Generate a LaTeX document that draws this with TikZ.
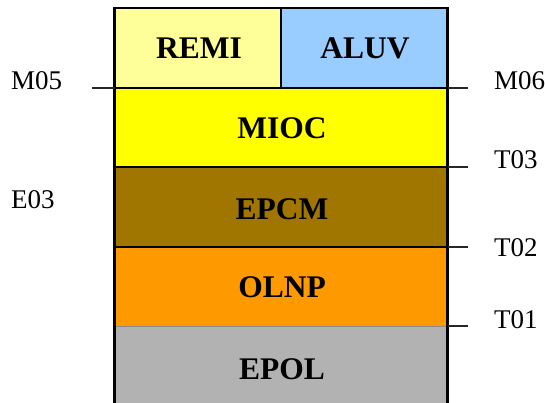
\documentclass[tikz,border=0pt]{standalone}
\usepackage{fontspec}
\setmainfont{Liberation Serif}
\definecolor{remic}{RGB}{255,255,153}
\definecolor{aluvc}{RGB}{153,204,255}
\definecolor{mioc}{RGB}{255,255,0}
\definecolor{epcmc}{RGB}{160,118,0}
\definecolor{olnpc}{RGB}{255,153,0}
\definecolor{epolc}{RGB}{178,178,178}
\tikzset{
  layer/.style={rectangle, inner sep=0pt, outer sep=0pt, minimum width=333pt},
  halflayer/.style={layer, minimum width=166.5pt},
  lname/.style={inner sep=0pt, font=\fontsize{31.5}{31.5}\selectfont\bfseries},
  lbl/.style={inner sep=0pt, anchor=west, font=\fontsize{27}{27}\selectfont},
  border/.style={line width=2.8pt, line cap=rect},
  tick/.style={line width=1.6pt, black!85},
  thinsep/.style={line width=0.8pt, black!45},
}
\begin{document}
\begin{tikzpicture}[x=1pt,y=-1pt]
\useasboundingbox (0,0) rectangle (545,403);
% layers
\node[halflayer, fill=remic, minimum height=80pt] (remi) at (197.75,48) {};
\node[halflayer, fill=aluvc, minimum height=80pt] (aluv) at (364.25,48) {};
\node[layer, fill=mioc, minimum height=79pt] (mioc) at (281,127.5) {};
\node[layer, fill=epcmc, minimum height=80pt] (epcm) at (281,207) {};
\node[layer, fill=olnpc, minimum height=79pt] (olnp) at (281,286.5) {};
\node[layer, fill=epolc, minimum height=77pt] (epol) at (281,364.5) {};
% layer names
\node[lname] (tremi) at (199,48.5) {REMI};
\node[lname] (taluv) at (365,48.5) {ALUV};
\node[lname] (tmioc) at (282,128.5) {MIOC};
\node[lname] (tepcm) at (282,209) {EPCM};
\node[lname] (tolnp) at (282,287.5) {OLNP};
\node[lname] (tepol) at (282,369) {EPOL};
% borders
\draw[thinsep] (olnp.south west) -- (olnp.south east);
\draw[border] (epol.south west) -- (remi.north west) -- (aluv.north east) -- (epol.south east);
\draw[border] (remi.north east) -- (remi.south east);
\draw[border] (mioc.north west) -- (mioc.north east);
\draw[border] (epcm.north west) -- (epcm.north east);
\draw[border] (olnp.north west) -- (olnp.north east);
% tick marks
\coordinate (m05t) at (92,88);
\coordinate (m06t) at (467.5,88);
\coordinate (t03t) at (467.5,167);
\coordinate (t02t) at (467.5,247);
\coordinate (t01t) at (467.5,326);
\draw[tick] (m05t) -- (mioc.north west);
\draw[tick] (mioc.north east) -- (m06t);
\draw[tick] (epcm.north east) -- (t03t);
\draw[tick] (olnp.north east) -- (t02t);
\draw[tick] (epol.north east) -- (t01t);
% labels
\node[lbl] (m05) at (11,80.5) {M05};
\node[lbl] (e03) at (11,200) {E03};
\node[lbl] (m06) at (494,80.5) {M06};
\node[lbl] (t03) at (494,160) {T03};
\node[lbl] (t02) at (494,248) {T02};
\node[lbl] (t01) at (494,320) {T01};
\end{tikzpicture}
\end{document}
